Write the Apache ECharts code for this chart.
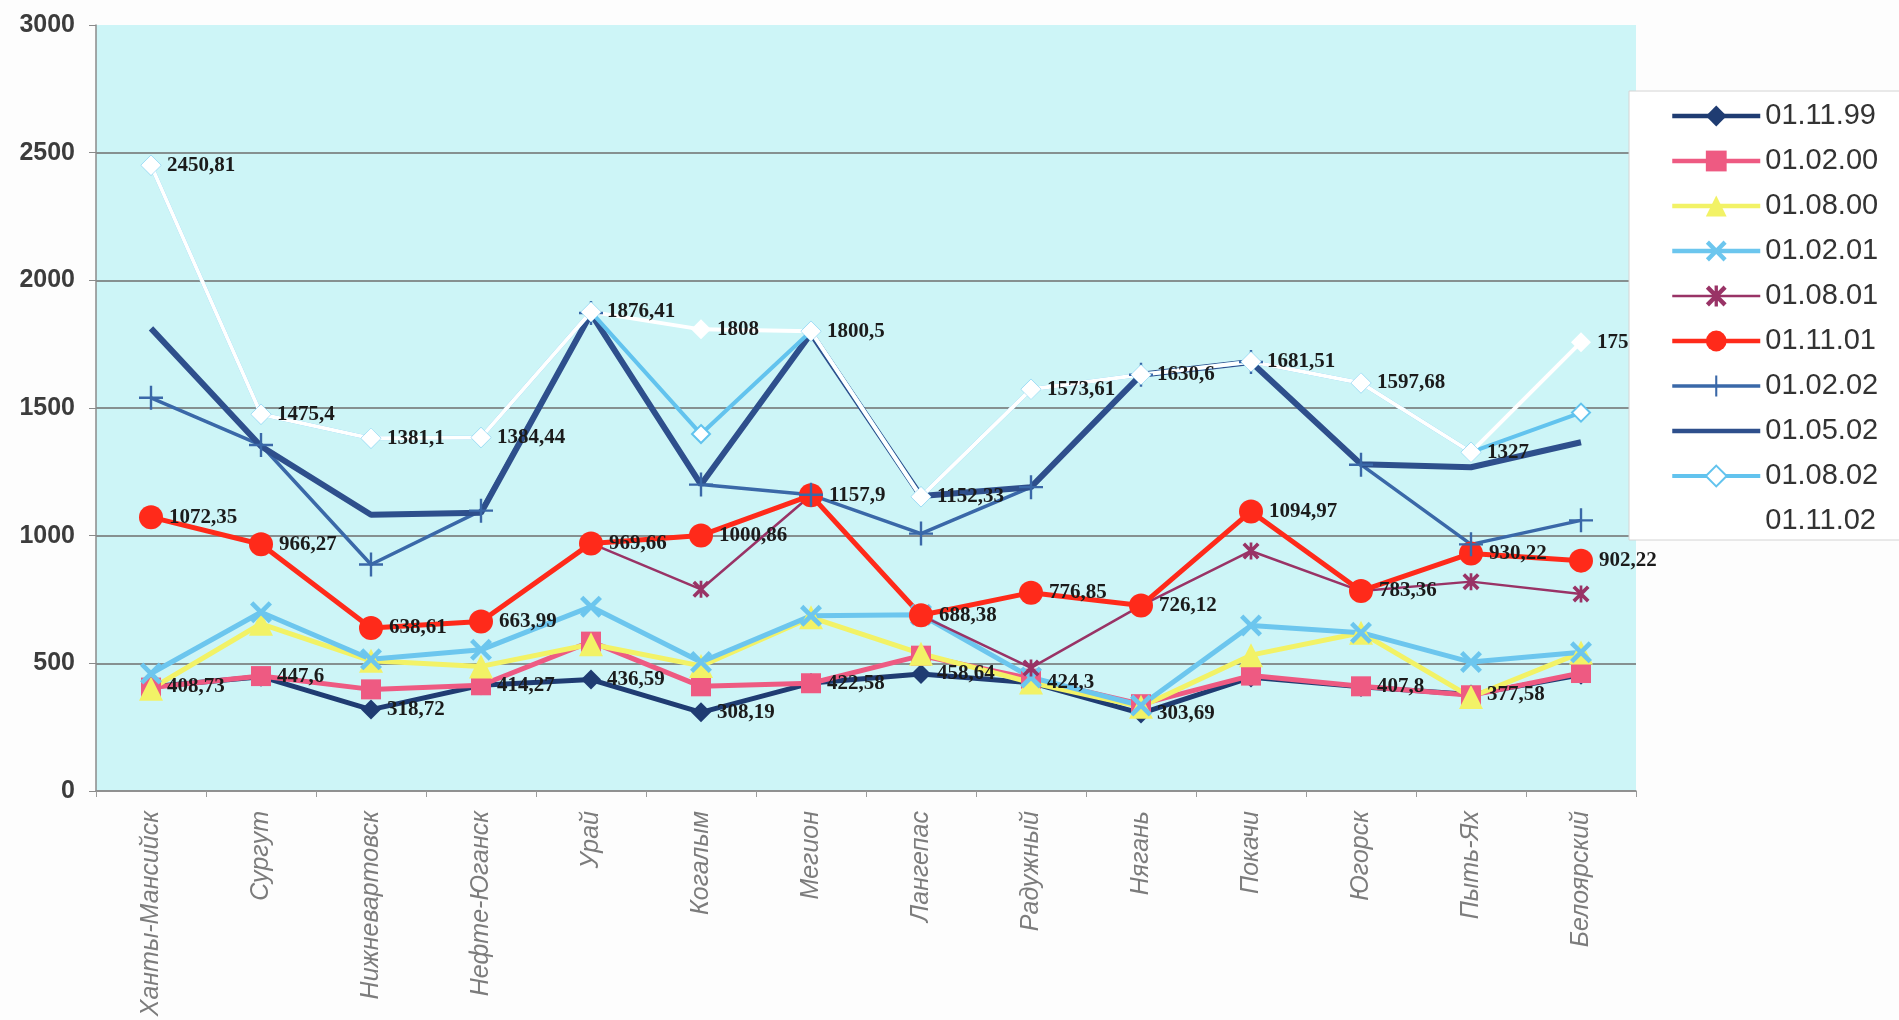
<!DOCTYPE html>
<html>
<head>
<meta charset="utf-8">
<script src="https://cdn.jsdelivr.net/npm/echarts@6/dist/echarts.min.js"></script>
<style>
html,body{margin:0;padding:0;background:#fdfdfd;}
#chart{width:1899px;height:1020px;}
</style>
</head>
<body>
<div id="chart"></div>
<script>
const categories = ['Ханты-Мансийск','Сургут','Нижневартовск','Нефте-Юганск','Урай','Когалым','Мегион','Лангепас','Радужный','Нягань','Покачи','Югорск','Пыть-Ях','Белоярский'];
const seriesNames = ['01.11.99','01.02.00','01.08.00','01.02.01','01.08.01','01.11.01','01.02.02','01.05.02','01.08.02','01.11.02'];

const s_011199 = [408.73, 447.6, 318.72, 414.27, 436.59, 308.19, 422.58, 458.64, 424.3, 303.69, 445, 407.8, 377.58, 455];
const s_010200 = [405, 450, 398, 414, 585, 410, 422, 530, 440, 340, 452, 410, 375, 462];
const s_010800 = [400, 655, 510, 488, 575, 490, 680, 538, 425, 330, 532, 620, 368, 542];
const s_010201 = [460, 700, 516, 553, 722, 505, 686, 690, 445, 335, 648, 620, 505, 543];
const s_010801 = [1072, 966, 638, 664, 970, 790, 1158, 688, 482, 726, 940, 783, 820, 772];
const s_011101 = [1072.35, 966.27, 638.61, 663.99, 969.66, 1000.86, 1157.9, 688.38, 776.85, 726.12, 1094.97, 783.36, 930.22, 902.22];
const s_010202 = [1540, 1355, 887, 1098, 1872, 1200, 1160, 1008, 1190, 1630, 1680, 1278, 966, 1060];
const s_010502 = [1812, 1350, 1082, 1090, 1870, 1200, 1792, 1155, 1190, 1630, 1680, 1280, 1268, 1366];
const s_010802 = [2450.81, 1475.4, 1381.1, 1384.44, 1876.41, 1398, 1800.5, 1152.33, 1573.61, 1630.6, 1681.51, 1597.68, 1327, 1482];
const s_011102 = [2450.81, 1475.4, 1381.1, 1384.44, 1876.41, 1808, 1800.5, 1152.33, 1573.61, 1630.6, 1681.51, 1597.68, 1327, 1757.8];
const navyHiddenLabels = [10, 13];

const yTicks = [0, 500, 1000, 1500, 2000, 2500, 3000];

const X_PATH = 'path://M0,1.5 L1.5,0 L5,3.5 L8.5,0 L10,1.5 L6.5,5 L10,8.5 L8.5,10 L5,6.5 L1.5,10 L0,8.5 L3.5,5 Z';
const PLUS_PATH = 'path://M4.5,0 L5.5,0 L5.5,4.5 L10,4.5 L10,5.5 L5.5,5.5 L5.5,10 L4.5,10 L4.5,5.5 L0,5.5 L0,4.5 L4.5,4.5 Z';
const STAR_PATH = 'path://M0,1.5 L1.5,0 L5,3.5 L8.5,0 L10,1.5 L6.5,5 L10,8.5 L8.5,10 L5,6.5 L1.5,10 L0,8.5 L3.5,5 Z M4.2,0 L5.8,0 L5.8,10 L4.2,10 Z';

const fmt = v => String(v).replace('.', ',');
const labelStyle = {
  show: true, position: 'right', distance: 6,
  fontFamily: 'Liberation Serif', fontWeight: 'bold', fontSize: 21, color: '#1b1b1b'
};

const styles = [
  { color: '#1f3c72', width: 5, symbol: 'diamond', size: 20 },
  { color: '#ee5a82', width: 5, symbol: 'rect', size: 20 },
  { color: '#f2f266', width: 5, symbol: 'triangle', size: 24 },
  { color: '#6cc6ee', width: 5, symbol: X_PATH, size: 22 },
  { color: '#993366', width: 2.5, symbol: STAR_PATH, size: 17 },
  { color: '#ff2a1a', width: 5, symbol: 'circle', size: 24 },
  { color: '#3a68a8', width: 3.5, symbol: PLUS_PATH, size: 24 },
  { color: '#2e4f8c', width: 6, symbol: 'none', size: 0 },
  { color: '#62c3ee', width: 4, symbol: 'emptyDiamond', size: 18 },
  { color: '#ffffff', width: 4, symbol: 'diamond', size: 20 }
];
const datasets = [s_011199, s_010200, s_010800, s_010201, s_010801, s_011101, s_010202, s_010502, s_010802, s_011102];

const series = datasets.map((d, i) => {
  const st = styles[i];
  const s = {
    name: seriesNames[i], type: 'line', data: d,
    symbol: st.symbol, symbolSize: st.size,
    lineStyle: { color: st.color, width: st.width },
    itemStyle: { color: st.color },
    emphasis: { disabled: true },
    animation: false
  };
  if (i === 8) s.itemStyle = { color: st.color, borderColor: st.color, borderWidth: 2.5 };
  if (i === 0) s.label = Object.assign({}, labelStyle, {
    formatter: p => navyHiddenLabels.indexOf(p.dataIndex) >= 0 ? '' : fmt(p.value)
  });
  if (i === 5 || i === 9) s.label = Object.assign({}, labelStyle, { formatter: p => fmt(p.value) });
  return s;
});

const legendData = seriesNames.map((n, i) => {
  const item = { name: n, lineStyle: { width: Math.min(styles[i].width, 4.5) } };
  if (styles[i].symbol === 'none') item.itemStyle = { opacity: 0 };
  return item;
});

const chart = echarts.init(document.getElementById('chart'), null, { renderer: 'canvas' });
chart.setOption({
  backgroundColor: '#fdfdfd',
  animation: false,
  grid: {
    left: 96, right: 263, top: 25, bottom: 229,
    show: true, backgroundColor: '#cdf5f7', borderWidth: 0,
    containLabel: false
  },
  legend: {
    orient: 'vertical',
    left: 1629, top: 91,
    padding: [10, 40, 4, 41],
    backgroundColor: '#ffffff',
    borderColor: '#d4d4d4', borderWidth: 1,
    itemWidth: 88, itemHeight: 26, itemGap: 15,
    textStyle: { fontFamily: 'Liberation Sans', fontSize: 29, color: '#333333', lineHeight: 30 },
    data: legendData,
    selectedMode: false
  },
  xAxis: {
    type: 'category',
    data: categories,
    boundaryGap: true,
    axisLine: { show: true, lineStyle: { color: '#8a8a8a', width: 1.5 } },
    axisTick: { show: true, length: 6, lineStyle: { color: '#9a9a9a' } },
    axisLabel: {
      rotate: 90, margin: 20, interval: 0,
      fontFamily: 'Liberation Sans', fontStyle: 'italic', fontSize: 25, color: '#7c7c7c'
    }
  },
  yAxis: {
    type: 'value',
    min: yTicks[0], max: yTicks[yTicks.length - 1], interval: 500,
    axisLine: { show: true, lineStyle: { color: '#8a8a8a', width: 1.5 } },
    axisTick: { show: true, length: 7, lineStyle: { color: '#8a8a8a' } },
    axisLabel: {
      margin: 21, formatter: v => String(v),
      fontFamily: 'Liberation Sans', fontWeight: 'bold', fontSize: 25, color: '#3c3c3c'
    },
    splitLine: {
      show: true,
      lineStyle: { color: ['#8a8a8a', '#6e6e6e', '#6e6e6e', '#6e6e6e', '#6e6e6e', '#6e6e6e', 'rgba(0,0,0,0)'], width: 1.5 }
    }
  },
  series: series
});
</script>
</body>
</html>
